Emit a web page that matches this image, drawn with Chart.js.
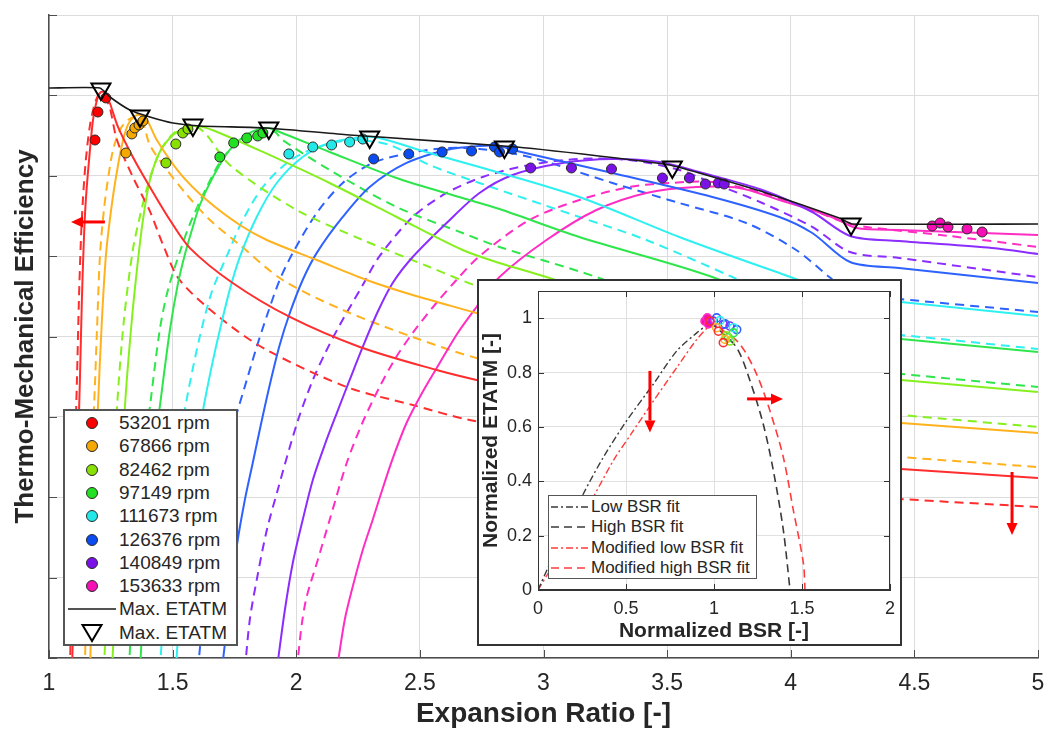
<!DOCTYPE html>
<html><head><meta charset="utf-8">
<script src="https://cdn.jsdelivr.net/npm/chart.js@4.4.1/dist/chart.umd.min.js"></script>
<style>
html,body{margin:0;padding:0;background:#fff;}
body{width:1051px;height:731px;position:relative;overflow:hidden;font-family:'Liberation Sans',Arial,sans-serif;color:#262626;}
#main{position:absolute;left:0;top:0;}
#insetBox{position:absolute;left:477px;top:279px;width:421px;height:363px;border:2px solid #333;background:#fff;}
#inset{position:absolute;left:0;top:0;}
.legend{position:absolute;background:#fff;box-sizing:border-box;}
.legend .row{position:absolute;left:0;white-space:nowrap;}
.legend svg{position:absolute;left:0;top:0;}
.legend span{position:absolute;}
</style></head><body>
<canvas id="main" width="1051" height="731"></canvas>
<div id="insetBox"><canvas id="inset" width="421" height="363"></canvas></div>
<div id="legMain" class="legend"></div>
<div id="legInset" class="legend"></div>
<script>
const FONT = "'Liberation Sans', Arial, Helvetica, sans-serif";
const TEXT = '#262626';

const speedLabels = ['53201 rpm','67866 rpm','82462 rpm','97149 rpm','111673 rpm','126376 rpm','140849 rpm','153633 rpm'];
const lineColors = ['#ff2d2d','#ffb21e','#86f01e','#2ee64b','#2ef0f0','#2e62ff','#8b2dff','#ff2dc3'];
const dotColors  = ['#ff0000','#f5a800','#88e000','#22e022','#22e8e8','#0a4cf0','#7a12e8','#f50fb4'];
const xTicksMain = [1,1.5,2,2.5,3,3.5,4,4.5,5];

// ---- main plot: solid curves (expansion ratio, efficiency in grid units) ----
const solidRed = [[1.093,-0.149],[1.105,1.219],[1.117,2.588],[1.125,3.459],[1.133,4.454],[1.141,5.201],[1.149,5.698],[1.162,6.196],[1.178,6.694],[1.194,6.943],[1.210,7.042],[1.226,7.030],[1.246,6.905],[1.279,6.607],[1.339,6.233],[1.408,5.860],[1.489,5.450],[1.570,5.100],[1.743,4.666],[1.974,4.243],[2.257,3.870],[2.568,3.583],[2.729,3.459],[4.240,2.389],[4.446,2.352],[5.0,2.240]];
const dashRed = [[1.085,-0.149],[1.093,1.219],[1.105,2.588],[1.113,3.459],[1.121,4.454],[1.129,5.201],[1.137,5.698],[1.149,6.196],[1.166,6.632],[1.186,6.905],[1.206,7.030],[1.222,7.005],[1.246,6.843],[1.275,6.445],[1.339,5.985],[1.408,5.560],[1.460,5.150],[1.529,4.700],[1.703,4.205],[1.881,3.832],[2.204,3.372],[2.471,3.148],[2.701,2.961],[4.240,2.028],[4.446,1.978],[5.0,1.879]];
const solidOrange = [[1.166,-0.149],[1.182,1.717],[1.198,3.123],[1.214,4.205],[1.230,5.000],[1.246,5.450],[1.267,5.910],[1.295,6.383],[1.319,6.632],[1.343,6.731],[1.368,6.756],[1.396,6.694],[1.436,6.445],[1.529,6.034],[1.638,5.698],[1.772,5.387],[1.881,5.201],[2.083,4.952],[2.285,4.703],[2.471,4.516],[2.729,4.292],[4.240,2.961],[4.446,2.924],[5.0,2.799]];
const dashOrange = [[1.145,-0.149],[1.158,1.717],[1.182,3.123],[1.194,4.081],[1.206,5.000],[1.222,5.574],[1.238,5.947],[1.259,6.321],[1.287,6.569],[1.319,6.694],[1.352,6.731],[1.376,6.694],[1.408,6.383],[1.477,6.072],[1.558,5.761],[1.651,5.450],[1.772,5.139],[1.945,4.703],[2.188,4.330],[2.471,3.994],[2.729,3.733],[4.240,2.563],[4.446,2.501],[5.0,2.376]];
const solidYG = [[1.255,-0.149],[1.279,1.468],[1.307,3.123],[1.335,4.205],[1.360,4.952],[1.380,5.450],[1.408,5.947],[1.448,6.296],[1.497,6.495],[1.541,6.582],[1.582,6.619],[1.622,6.607],[1.671,6.557],[1.865,6.296],[2.135,5.910],[2.406,5.487],[2.673,5.076],[2.822,4.915],[3.012,4.740],[4.240,3.509],[4.446,3.459],[5.0,3.310]];
const dashYG = [[1.222,-0.149],[1.246,1.468],[1.275,3.123],[1.303,4.205],[1.339,5.076],[1.368,5.500],[1.400,5.885],[1.448,6.296],[1.501,6.520],[1.558,6.607],[1.598,6.607],[1.638,6.507],[1.731,6.134],[2.002,5.574],[2.269,5.201],[2.539,4.865],[2.741,4.616],[4.240,3.073],[4.446,3.023],[5.0,2.874]];
const solidGreen = [[1.368,-0.149],[1.392,1.219],[1.416,2.339],[1.448,3.123],[1.489,4.081],[1.521,4.650],[1.549,5.014],[1.578,5.325],[1.610,5.636],[1.663,5.985],[1.731,6.321],[1.812,6.532],[1.885,6.594],[1.933,6.545],[2.135,6.296],[2.406,5.972],[2.673,5.723],[2.822,5.586],[3.145,5.238],[3.683,4.740],[4.240,4.031],[4.446,3.969],[5.0,3.807]];
const dashGreen = [[1.323,-0.149],[1.347,1.219],[1.376,2.339],[1.408,3.123],[1.448,4.081],[1.481,4.579],[1.529,5.050],[1.570,5.400],[1.638,5.860],[1.703,6.221],[1.784,6.470],[1.865,6.569],[1.913,6.545],[1.945,6.445],[2.135,6.072],[2.406,5.611],[2.673,5.288],[2.822,5.114],[3.214,4.740],[4.240,3.596],[4.446,3.534],[5.0,3.372]];
const solidCyan = [[1.513,-0.149],[1.537,0.970],[1.570,1.966],[1.602,2.712],[1.630,3.200],[1.663,3.700],[1.691,4.081],[1.731,4.580],[1.772,4.990],[1.840,5.487],[1.921,5.910],[2.026,6.233],[2.135,6.408],[2.277,6.482],[2.337,6.470],[2.539,6.283],[2.741,6.109],[3.145,5.736],[3.549,5.238],[3.954,4.790],[4.240,4.492],[4.446,4.429],[5.0,4.255]];
const dashCyan = [[1.448,-0.149],[1.477,1.095],[1.509,2.090],[1.537,2.837],[1.562,3.300],[1.610,4.000],[1.659,4.560],[1.719,5.000],[1.784,5.450],[1.865,5.860],[1.962,6.159],[2.055,6.321],[2.164,6.420],[2.236,6.445],[2.378,6.383],[2.539,6.134],[2.741,5.910],[3.145,5.487],[3.416,5.201],[3.764,4.740],[4.240,4.081],[4.446,4.019],[5.0,3.845]];
const solidBlue = [[1.699,-0.149],[1.723,0.473],[1.760,1.400],[1.792,1.966],[1.824,2.426],[1.861,2.961],[1.893,3.400],[1.933,3.894],[1.974,4.292],[2.026,4.703],[2.083,5.040],[2.188,5.487],[2.297,5.860],[2.446,6.159],[2.608,6.321],[2.741,6.370],[2.822,6.370],[2.875,6.321],[3.279,6.034],[3.683,5.736],[3.954,5.487],[4.087,5.288],[4.240,4.927],[4.438,4.852],[5.0,4.666]];
const dashBlue = [[1.602,-0.149],[1.630,0.722],[1.663,1.468],[1.699,2.215],[1.731,2.712],[1.760,3.048],[1.800,3.459],[1.840,3.870],[1.885,4.292],[1.933,4.703],[1.986,5.039],[2.083,5.537],[2.188,5.910],[2.309,6.159],[2.459,6.283],[2.608,6.345],[2.741,6.333],[2.943,6.233],[3.279,5.910],[3.549,5.661],[3.820,5.412],[4.022,5.076],[4.156,4.740],[4.240,4.541],[4.317,4.504],[5.0,4.305]];
const solidPurple = [[1.921,-0.149],[1.954,0.597],[1.986,1.182],[2.026,1.717],[2.067,2.215],[2.115,2.650],[2.164,3.048],[2.216,3.459],[2.269,3.870],[2.329,4.305],[2.390,4.666],[2.471,4.989],[2.608,5.412],[2.741,5.786],[2.875,6.010],[3.077,6.159],[3.279,6.209],[3.469,6.171],[3.630,6.047],[3.885,5.823],[4.087,5.549],[4.240,5.251],[4.438,5.188],[4.814,5.101],[5.0,5.027]];
const dashPurple = [[1.792,-0.149],[1.812,0.473],[1.840,0.970],[1.881,1.593],[1.925,2.090],[1.974,2.625],[2.014,3.023],[2.067,3.459],[2.119,3.807],[2.176,4.143],[2.269,4.641],[2.337,5.000],[2.471,5.487],[2.608,5.786],[2.754,5.985],[2.943,6.134],[3.145,6.209],[3.347,6.196],[3.549,6.072],[3.683,5.910],[3.885,5.661],[4.087,5.363],[4.240,5.051],[4.438,4.977],[5.0,4.740]];
const solidMagenta = [[2.164,-0.149],[2.196,0.473],[2.228,0.883],[2.269,1.344],[2.309,1.717],[2.337,1.990],[2.390,2.480],[2.446,2.924],[2.511,3.310],[2.580,3.670],[2.653,4.044],[2.729,4.367],[2.822,4.740],[3.012,5.201],[3.214,5.574],[3.416,5.786],[3.618,5.860],[3.792,5.848],[3.954,5.698],[4.087,5.574],[4.196,5.450],[4.265,5.350],[4.438,5.325],[5.0,5.263]];
const dashMagenta = [[2.002,-0.149],[2.022,0.411],[2.042,0.759],[2.087,1.219],[2.135,1.717],[2.204,2.426],[2.269,2.936],[2.337,3.372],[2.402,3.733],[2.471,4.044],[2.560,4.392],[2.648,4.703],[2.741,5.000],[2.943,5.450],[3.145,5.698],[3.347,5.860],[3.509,5.910],[3.683,5.922],[3.885,5.786],[4.087,5.574],[4.224,5.412],[4.305,5.363],[4.640,5.251],[5.0,5.114]];

const solidCurves = [solidRed, solidOrange, solidYG, solidGreen, solidCyan, solidBlue, solidPurple, solidMagenta];
const dashedCurves = [dashRed, dashOrange, dashYG, dashGreen, dashCyan, dashBlue, dashPurple, dashMagenta];

// ---- measured points ----
const dotsRed = [[1.186,6.445],[1.198,6.793],[1.230,6.968]];
const dotsOrange = [[1.311,6.283],[1.335,6.520],[1.347,6.594],[1.364,6.632],[1.380,6.681]];
const dotsYG = [[1.473,6.159],[1.513,6.395],[1.541,6.532],[1.562,6.582]];
const dotsGreen = [[1.691,6.233],[1.747,6.408],[1.800,6.470],[1.844,6.495],[1.865,6.532]];
const dotsCyan = [[1.970,6.271],[2.067,6.358],[2.143,6.383],[2.216,6.420],[2.269,6.457]];
const dotsBlue = [[2.313,6.209],[2.455,6.271],[2.590,6.296],[2.709,6.308],[2.802,6.358],[2.822,6.296],[2.875,6.333]];
const dotsPurple = [[2.948,6.097],[3.113,6.097],[3.275,6.084],[3.481,5.972],[3.590,5.972],[3.655,5.897],[3.707,5.910],[3.731,5.897]];
const dotsMagenta = [[4.572,5.375],[4.604,5.412],[4.636,5.363],[4.713,5.338],[4.774,5.300]];
const dotSets = [dotsRed, dotsOrange, dotsYG, dotsGreen, dotsCyan, dotsBlue, dotsPurple, dotsMagenta];

const maxEtatmLine = [[1.0,7.092],[1.206,7.092],[1.2465,6.980],[1.327,6.818],[1.408,6.731],[1.501,6.656],[1.610,6.619],[1.881,6.594],[2.216,6.507],[2.337,6.482],[2.891,6.358],[3.295,6.221],[3.509,6.134],[3.630,6.034],[3.901,5.786],[4.196,5.474],[4.248,5.400],[5.0,5.400]];
const maxEtatmPoints = [[1.210,7.080],[1.368,6.744],[1.582,6.632],[1.889,6.594],[2.297,6.482],[2.842,6.358],[3.521,6.109],[4.244,5.400]];
const mainArrows = [[1.226,5.425,1.089,5.425],[4.895,2.314,4.895,1.530]];

// ---- inset: normalized BSR vs normalized ETATM ----
const bsrLowFit = [[0,0],[0.059,0.085],[0.258,0.354],[0.371,0.488],[0.504,0.623],[0.655,0.757],[0.788,0.879],[0.902,0.946],[0.977,0.983]];
const bsrHighFit = [[0.977,0.983],[1.015,0.965],[1.129,0.891],[1.205,0.769],[1.280,0.610],[1.337,0.440],[1.394,0.220],[1.432,0.0]];
const bsrModLowFit = [[0,0],[0.150,0.160],[0.314,0.342],[0.428,0.476],[0.530,0.575],[0.650,0.690],[0.790,0.820],[0.900,0.920],[0.977,0.975]];
const bsrModHighFit = [[0.977,0.983],[1.040,0.960],[1.148,0.904],[1.242,0.794],[1.318,0.659],[1.394,0.488],[1.451,0.293],[1.508,0.098],[1.517,0.0]];
const insetDots = [
  [[1.053,0.910],[1.025,0.952],[0.977,0.989]],
  [[1.063,0.922],[1.015,0.965]],
  [[1.091,0.916],[1.070,0.935]],
  [[1.081,0.928],[1.110,0.946]],
  [[1.110,0.965],[1.034,0.991]],
  [[1.129,0.958],[1.063,0.979],[1.015,1.001]],
  [[0.996,0.989],[1.053,0.977],[1.091,0.971]],
  [[0.949,0.989],[0.962,1.001],[0.968,0.979]]
];
const insetArrows = [[0.636,0.806,0.636,0.579],[1.188,0.703,1.392,0.703]];
const insetLegend = ['Low BSR fit','High BSR fit','Modified low BSR fit','Modified high BSR fit'];

const pts = a => a.map(p => ({x:p[0], y:p[1]}));
const TENSION = 0.3;

function drawArrow(ctx, x1, y1, x2, y2) {
  const ang = Math.atan2(y2 - y1, x2 - x1), L = 12, W = 5.5;
  const bx = x2 - Math.cos(ang) * L, by = y2 - Math.sin(ang) * L;
  ctx.strokeStyle = '#ff0000'; ctx.fillStyle = '#ff0000'; ctx.lineWidth = 3;
  ctx.beginPath(); ctx.moveTo(x1, y1); ctx.lineTo(bx, by); ctx.stroke();
  ctx.beginPath(); ctx.moveTo(x2, y2);
  ctx.lineTo(bx + Math.sin(ang) * W, by - Math.cos(ang) * W);
  ctx.lineTo(bx - Math.sin(ang) * W, by + Math.cos(ang) * W);
  ctx.closePath(); ctx.fill();
}

function decor(opts) {
  return {
    id: 'decor',
    afterDatasetsDraw(chart) {
      const {ctx, chartArea: a, scales: {x, y}} = chart;
      ctx.save();
      ctx.strokeStyle = opts.color; ctx.lineWidth = 1;
      const seg = (x1, y1, x2, y2) => { ctx.beginPath(); ctx.moveTo(x1, y1); ctx.lineTo(x2, y2); ctx.stroke(); };
      if (opts.box) ctx.strokeRect(a.left + 0.5, a.top + 0.5, a.right - a.left - 1, a.bottom - a.top - 1);
      const L = opts.tick;
      x.ticks.forEach(t => { const p = Math.round(x.getPixelForValue(t.value)) + 0.5;
        seg(p, a.bottom, p, a.bottom - L); if (opts.box) seg(p, a.top, p, a.top + L); });
      y.ticks.forEach(t => { const p = Math.round(y.getPixelForValue(t.value)) + 0.5;
        seg(a.left, p, a.left + L, p); if (opts.box) seg(a.right, p, a.right - L, p); });
      opts.arrows.forEach(r => drawArrow(ctx, x.getPixelForValue(r[0]), y.getPixelForValue(r[1]), x.getPixelForValue(r[2]), y.getPixelForValue(r[3])));
      ctx.restore();
    }
  };
}

// ---- main chart ----
const mainDatasets = [];
mainDatasets.push({label:'Max. ETATM', data: pts(maxEtatmPoints), showLine:false, pointStyle:'triangle', rotation:180,
  pointRadius:11, borderColor:'#000', borderWidth:2, backgroundColor:'rgba(255,255,255,0)', order:0});
mainDatasets.push({label:'Max. ETATM line', data: pts(maxEtatmLine), showLine:true, pointRadius:0, borderColor:'#1a1a1a',
  borderWidth:1.6, tension:0.15, order:1});
dotSets.forEach((d, i) => mainDatasets.push({label: speedLabels[i], data: pts(d), showLine:false, pointRadius:5,
  backgroundColor: dotColors[i], borderColor:'#2a2a2a', borderWidth:1, order:2}));
solidCurves.forEach((c, i) => mainDatasets.push({label: speedLabels[i] + ' fit', data: pts(c), showLine:true, pointRadius:0,
  borderColor: lineColors[i], borderWidth:2, tension:TENSION, order:3}));
dashedCurves.forEach((c, i) => mainDatasets.push({label: speedLabels[i] + ' mod', data: pts(c), showLine:true, pointRadius:0,
  borderColor: lineColors[i], borderWidth:2, borderDash:[9,6], tension:TENSION, order:3}));

new Chart(document.getElementById('main'), {
  type: 'scatter',
  data: {datasets: mainDatasets},
  options: {
    responsive:false, animation:false, events:[],
    layout:{padding:{left:0, right:12, top:15, bottom:0}},
    plugins:{legend:{display:false}, tooltip:{enabled:false}},
    scales:{
      x:{type:'linear', min:1, max:5,
        afterBuildTicks: s => { s.ticks = xTicksMain.map(v => ({value:v})); },
        ticks:{color:TEXT, font:{family:FONT, size:23}, padding:12, callback: v => String(v), maxRotation:0},
        grid:{color:'#dcdcdc', drawTicks:false, lineWidth:1},
        border:{color:'#4d4d4d', width:1.5},
        title:{display:true, text:'Expansion Ratio [-]', color:TEXT, font:{family:FONT, size:28, weight:'bold'}, padding:{top:0,bottom:0}},
        afterFit: s => { s.height = 73; s.paddingLeft = 0; s.paddingRight = 0; }},
      y:{type:'linear', min:0, max:8,
        ticks:{display:false, stepSize:1},
        grid:{color:'#dcdcdc', drawTicks:false, lineWidth:1},
        border:{color:'#4d4d4d', width:1.5},
        title:{display:true, text:'Thermo-Mechanical Efficiency', color:TEXT, font:{family:FONT, size:26, weight:'bold'}, padding:{top:10,bottom:0}},
        afterFit: s => { s.width = 49; s.paddingTop = 0; s.paddingBottom = 0; }}
    }
  },
  plugins:[decor({color:'#4d4d4d', tick:8, box:false, arrows: mainArrows})]
});

// ---- inset chart ----
const insetDatasets = [];
insetDots.forEach((d, i) => insetDatasets.push({data: pts(d), showLine:false, pointRadius:4, pointStyle:'circle',
  backgroundColor: i === 7 ? dotColors[i] : 'rgba(255,255,255,0)', borderColor: lineColors[i], borderWidth:1.6, order:0}));
insetDatasets.push({label: insetLegend[0], data: pts(bsrLowFit), showLine:true, pointRadius:0, borderColor:'#3a3a3a', borderWidth:1.4, borderDash:[7,3,2,3], tension:0.3, order:1});
insetDatasets.push({label: insetLegend[1], data: pts(bsrHighFit), showLine:true, pointRadius:0, borderColor:'#3a3a3a', borderWidth:1.6, borderDash:[8,5], tension:0.3, order:1});
insetDatasets.push({label: insetLegend[2], data: pts(bsrModLowFit), showLine:true, pointRadius:0, borderColor:'#ff3b3b', borderWidth:1.4, borderDash:[7,3,2,3], tension:0.3, order:1});
insetDatasets.push({label: insetLegend[3], data: pts(bsrModHighFit), showLine:true, pointRadius:0, borderColor:'#ff3b3b', borderWidth:1.6, borderDash:[8,5], tension:0.3, order:1});

new Chart(document.getElementById('inset'), {
  type:'scatter',
  data:{datasets: insetDatasets},
  options:{
    responsive:false, animation:false, events:[],
    layout:{padding:{left:0, right:10, top:10, bottom:0}},
    plugins:{legend:{display:false}, tooltip:{enabled:false}},
    scales:{
      x:{type:'linear', min:0, max:2,
        ticks:{stepSize:0.5, color:TEXT, font:{family:FONT, size:18}, padding:8, callback: v => String(+v.toFixed(2)), maxRotation:0},
        grid:{color:'#e0e0e0', drawTicks:false},
        border:{color:'#333', width:1},
        title:{display:true, text:'Normalized BSR [-]', color:TEXT, font:{family:FONT, size:21, weight:'bold'}, padding:{top:0,bottom:0}},
        afterFit: s => { s.height = 54; s.paddingLeft = 0; s.paddingRight = 0; }},
      y:{type:'linear', min:0, max:1.1,
        afterBuildTicks: s => { s.ticks = s.ticks.filter(t => t.value <= 1.0001); },
        ticks:{stepSize:0.2, color:TEXT, font:{family:FONT, size:18}, padding:6, callback: v => String(+v.toFixed(2))},
        grid:{color:'#e0e0e0', drawTicks:false},
        border:{color:'#333', width:1},
        title:{display:true, text:'Normalized ETATM [-]', color:TEXT, font:{family:FONT, size:21, weight:'bold'}, padding:{top:0,bottom:0}},
        afterFit: s => { s.width = 59; s.paddingTop = 0; s.paddingBottom = 0; }}
    }
  },
  plugins:[decor({color:'#333', tick:6, box:true, arrows: insetArrows})]
});

// ---- HTML legends ----
(function(){
  const leg = document.getElementById('legMain');
  Object.assign(leg.style, {left:'63px', top:'409px', width:'175px', height:'237px', border:'2px solid #555'});
  const top0 = 423 - 409 - 2, step = 23.3;
  const mk = (i, svg, text) => {
    const r = document.createElement('div'); r.className = 'row';
    r.style.top = (top0 + i * step - 12) + 'px'; r.style.height = '24px'; r.style.width = '170px';
    r.innerHTML = '<svg width="56" height="24">' + svg + '</svg>';
    const s = document.createElement('span'); s.textContent = text;
    Object.assign(s.style, {left:'54px', top:'0px', lineHeight:'24px', fontSize:'19px', color:TEXT});
    r.appendChild(s); leg.appendChild(r);
  };
  speedLabels.forEach((t, i) => mk(i, '<circle cx="27" cy="12" r="5.5" fill="' + dotColors[i] + '" stroke="#2a2a2a" stroke-width="1"/>', t));
  mk(8, '<line x1="3" y1="12" x2="51" y2="12" stroke="#1a1a1a" stroke-width="1.6"/>', 'Max. ETATM');
  mk(9, '<polygon points="17.5,4 36.5,4 27,20" fill="none" stroke="#000" stroke-width="2"/>', 'Max. ETATM');

  const li = document.getElementById('legInset');
  Object.assign(li.style, {left:'548px', top:'495px', width:'209px', height:'84px', border:'1px solid #555'});
  const styles = [['#3a3a3a','7 3 2 3'],['#3a3a3a','8 5'],['#ff3b3b','7 3 2 3'],['#ff3b3b','8 5']];
  insetLegend.forEach((t, i) => {
    const r = document.createElement('div'); r.className = 'row';
    r.style.top = (11 + i * 20.4 - 11) + 'px'; r.style.height = '22px'; r.style.width = '205px';
    r.innerHTML = '<svg width="44" height="22"><line x1="2" y1="11" x2="41" y2="11" stroke="' + styles[i][0] + '" stroke-width="1.5" stroke-dasharray="' + styles[i][1] + '"/></svg>';
    const s = document.createElement('span'); s.textContent = t;
    Object.assign(s.style, {left:'42px', top:'0px', lineHeight:'22px', fontSize:'17px', color:TEXT});
    r.appendChild(s); li.appendChild(r);
  });
})();
</script>
</body></html>
